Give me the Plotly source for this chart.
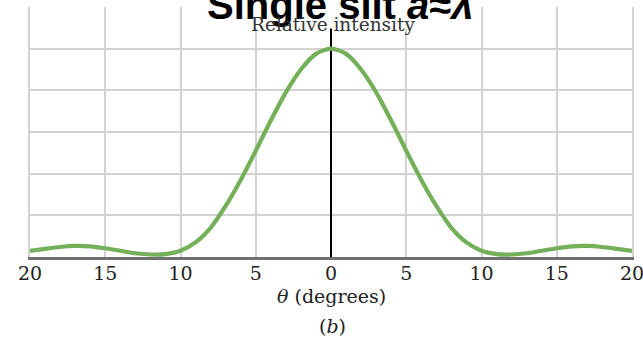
import plotly.graph_objects as go

# Single-slit diffraction pattern (a ~ lambda): relative intensity vs angle
theta_deg = list(range(-20, 21))
intensity_right = [1.00, 0.975, 0.90, 0.79, 0.655, 0.51, 0.37, 0.245, 0.14, 0.07,
                   0.03, 0.014, 0.012, 0.018, 0.030, 0.042, 0.051, 0.053, 0.048,
                   0.039, 0.029]
# mirror the right half to get the symmetric pattern from -20 to 20 degrees
intensity = intensity_right[:0:-1] + intensity_right

tick_vals = [-20, -15, -10, -5, 0, 5, 10, 15, 20]
tick_text = ["20", "15", "10", "5", "0", "5", "10", "15", "20"]

SERIF = "DejaVu Serif, Liberation Serif, serif"
GRID = "#d2d2d2"

fig = go.Figure()
fig.add_trace(go.Scatter(
    x=theta_deg, y=intensity, mode="lines",
    line=dict(color="#74b05a", width=4.2, shape="spline", smoothing=0.8),
    hoverinfo="skip", showlegend=False,
))

fig.update_layout(
    width=643, height=341,
    margin=dict(l=30, r=11, t=7, b=84),
    paper_bgcolor="white", plot_bgcolor="white",
    xaxis=dict(
        range=[-20, 20], tickvals=tick_vals, ticktext=tick_text,
        showgrid=True, gridcolor=GRID, gridwidth=2,
        zeroline=True, zerolinecolor="black", zerolinewidth=1.5,
        showline=True, linecolor="#707070", linewidth=3,
        ticks="", ticklabelstandoff=-3, ticklabeloverflow="allow",
        automargin=False,
        tickfont=dict(family=SERIF, size=19, color="#222"),
        fixedrange=True,
    ),
    yaxis=dict(
        range=[0, 1.2], dtick=0.2, showticklabels=False,
        showgrid=True, gridcolor=GRID, gridwidth=2,
        zeroline=False, showline=True, mirror=True, automargin=False,
        linecolor=GRID, linewidth=2, fixedrange=True,
    ),
    annotations=[
        dict(text="<b>Single slit <i>a</i>≈<i>λ</i></b>", xref="paper", yref="paper",
             x=0.516, y=1.01, xanchor="center", yanchor="middle", showarrow=False,
             font=dict(family="Liberation Sans, Arial, sans-serif", size=40, color="black"),
             bgcolor="white"),
        dict(text="Relative intensity", xref="x", yref="paper",
             x=0.15, y=0.928, xanchor="center", yanchor="middle", showarrow=False,
             font=dict(family=SERIF, size=18.5, color="#333")),
        dict(text="<i>θ</i> (degrees)", xref="x", yref="paper",
             x=0, y=-0.156, xanchor="center", yanchor="middle", showarrow=False,
             font=dict(family=SERIF, size=19, color="#222")),
        dict(text="(<i>b</i>)", xref="x", yref="paper",
             x=0.1, y=-0.276, xanchor="center", yanchor="middle", showarrow=False,
             font=dict(family=SERIF, size=19, color="#222")),
    ],
)

fig.write_html("out.html")
